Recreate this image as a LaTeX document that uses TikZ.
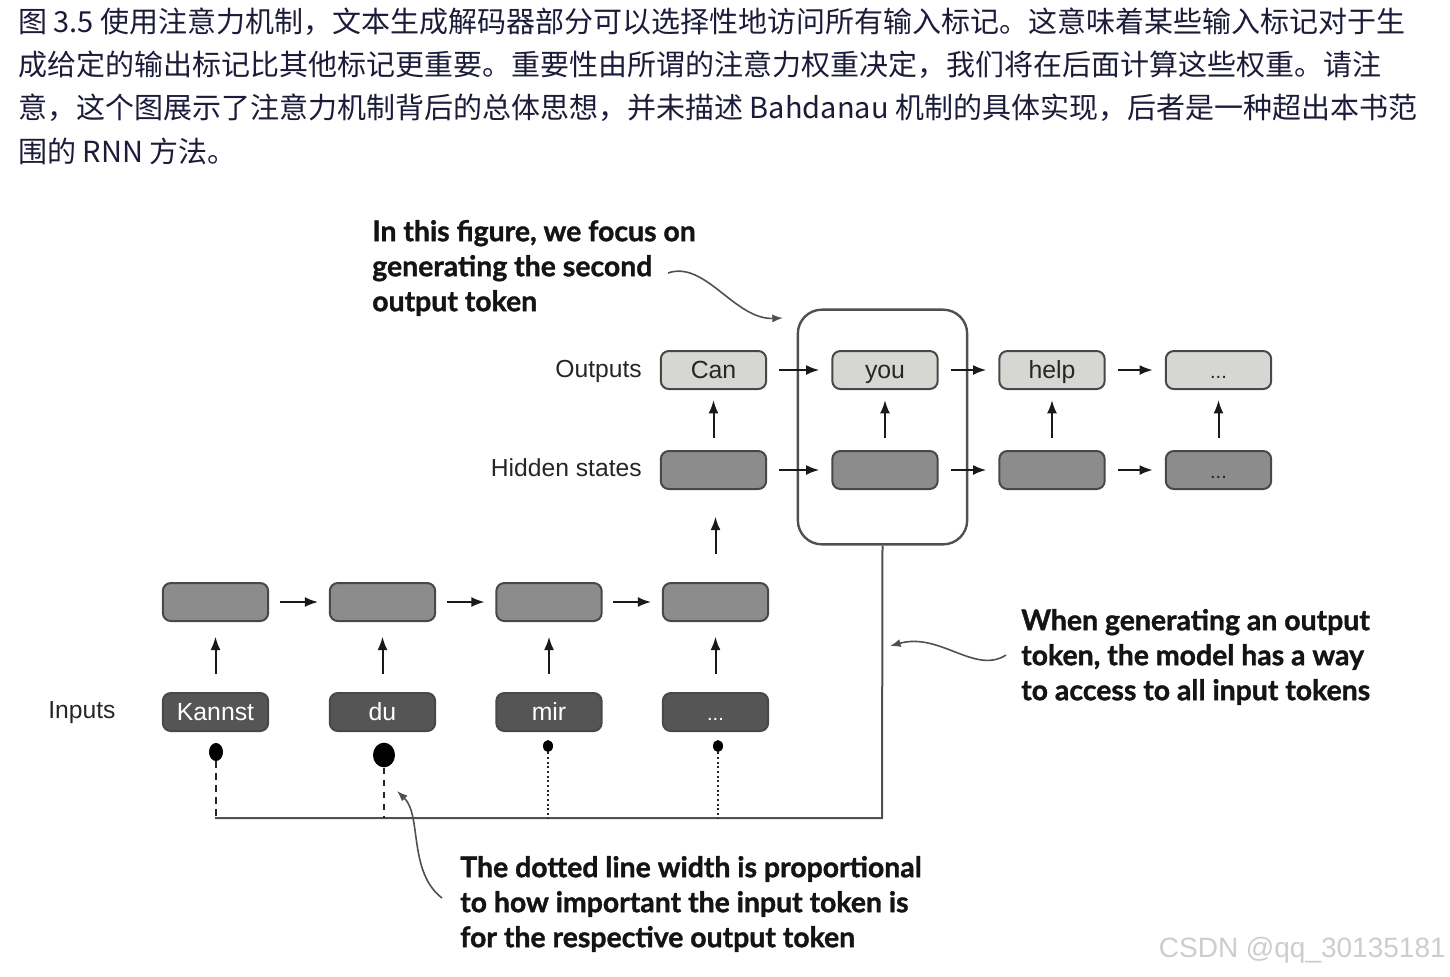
\documentclass[tikz,border=0pt]{standalone}
\usepackage{fontspec}
\setmainfont{Liberation Sans}
\newfontfamily\cjk{Noto Sans CJK SC}
\newfontfamily\annfont[BoldFeatures={FakeBold=1.2}]{Lato}
\usetikzlibrary{arrows.meta,shapes.geometric}
\definecolor{capcol}{RGB}{28,28,58}
\definecolor{outfill}{RGB}{214,214,210}
\definecolor{hidfill}{RGB}{140,140,140}
\definecolor{infill}{RGB}{85,85,85}
\definecolor{edgecol}{RGB}{72,72,72}
\definecolor{linecol}{RGB}{80,80,80}
\definecolor{wmcol}{RGB}{205,205,205}
\begin{document}
\begin{tikzpicture}[x=0.75pt,y=-0.75pt,
  box/.style={rounded corners=6pt, draw=edgecol, line width=1.5pt, minimum width=79pt, minimum height=28.5pt, inner sep=0pt, text height=16.6pt, text depth=3.5pt, font=\fontsize{18.6}{20}\selectfont},
  outbox/.style={box, fill=outfill, text=black!85},
  hidbox/.style={box, fill=hidfill, text=black!85},
  inbox/.style={box, fill=infill, text=white},
  conn/.style={line width=1.5pt, draw=black!90, -{Latex[length=10pt,width=7.5pt]}},
  annarrow/.style={line width=1.2pt, draw=linecol, -{Latex[length=8pt,width=6pt]}},
  rowlabel/.style={font=\fontsize{18.5}{20}\selectfont, text=black!85, inner sep=0pt},
  anntext/.style={font=\annfont\bfseries\fontsize{21.3}{26.25}\selectfont, align=left, inner sep=0pt, text=black!92},
  capline/.style={font=\cjk\fontsize{21.75}{26}\selectfont, text=capcol, anchor=west, inner sep=0pt},
  dotmark/.style={ellipse, fill=black, inner sep=0pt},
]
\useasboundingbox (0,0) rectangle (1450,976);

% caption
\node[capline] (c1) at (18,22) {图 3.5 使用注意力机制，文本生成解码器部分可以选择性地访问所有输入标记。这意味着某些输入标记对于生};
\node[capline] (c2) at (18,65) {成给定的输出标记比其他标记更重要。重要性由所谓的注意力权重决定，我们将在后面计算这些权重。请注};
\node[capline] (c3) at (18,108) {意，这个图展示了注意力机制背后的总体思想，并未描述 Bahdanau 机制的具体实现，后者是一种超出本书范};
\node[capline] (c4) at (18,151) {围的 RNN 方法。};

% row labels
\node[rowlabel, anchor=east] (lo) at (642,371) {Outputs};
\node[rowlabel, anchor=east] (lh) at (642,468) {Hidden states};
\node[rowlabel, anchor=west] (li) at (48,713) {Inputs};

% decoder outputs
\node[outbox] (o1) at (713.5,370) {Can};
\node[outbox] (o2) at (885,370) {you};
\node[outbox] (o3) at (1052,370) {help};
\node[outbox] (o4) at (1218.5,370) {\fontsize{15}{16}\selectfont ...};
% decoder hidden
\node[hidbox] (h1) at (713.5,470) {};
\node[hidbox] (h2) at (885,470) {};
\node[hidbox] (h3) at (1052,470) {};
\node[hidbox] (h4) at (1218.5,470) {\fontsize{15}{16}\selectfont ...};
% encoder hidden
\node[hidbox] (e1) at (215.5,602) {};
\node[hidbox] (e2) at (382.5,602) {};
\node[hidbox] (e3) at (549,602) {};
\node[hidbox] (e4) at (715.5,602) {};
% inputs
\node[inbox] (i1) at (215.5,712) {Kannst};
\node[inbox] (i2) at (382.5,712) {du};
\node[inbox] (i3) at (549,712) {mir};
\node[inbox] (i4) at (715.5,712) {\fontsize{15}{16}\selectfont ...};

% focus box
\node[draw=linecol, line width=1.8pt, rounded corners=18pt, minimum width=127pt, minimum height=176pt, inner sep=0pt] (focus) at (882.5,427) {};

% horizontal arrows
\foreach \a/\b in {o1/o2,o2/o3,o3/o4,h1/h2,h2/h3,h3/h4}
  \draw[conn, shorten <=9pt, shorten >=9pt] (\a.east) -- (\b.west);
\foreach \a/\b in {e1/e2,e2/e3,e3/e4}
  \draw[conn, shorten <=8pt, shorten >=8pt] (\a.east) -- (\b.west);
% vertical arrows
\foreach \a/\b in {h1/o1,h2/o2,h3/o3,h4/o4}
  \draw[conn, shorten <=9pt, shorten >=7.5pt] (\a.north) -- (\b.south);
\foreach \a/\b in {i1/e1,i2/e2,i3/e3,i4/e4}
  \draw[conn, shorten <=13.5pt, shorten >=11pt] (\a.north) -- (\b.south);
\draw[conn, shorten <=21pt, shorten >=20pt] (e4.north) -- (e4.north |- h1.south);

% attention lines
\coordinate (br) at (882,818);
\coordinate (bl) at (215,818);
\node[dotmark, minimum width=10.5pt, minimum height=13.5pt] (d1) at (216,752) {};
\node[dotmark, minimum width=16.5pt, minimum height=18.5pt] (d2) at (384,755) {};
\node[dotmark, minimum width=7.5pt, minimum height=9pt] (d3) at (548,746) {};
\node[dotmark, minimum width=7.5pt, minimum height=9pt] (d4) at (718,746) {};
\draw[linecol, line width=1.5pt] (focus.south) -- (br) -- (bl);
\draw[black!85, line width=1.4pt, dash pattern=on 5pt off 4pt] (d1.south) -- (d1.south |- bl);
\draw[black!85, line width=1.6pt, dash pattern=on 5pt off 4pt] (d2.south) -- (d2.south |- bl);
\draw[black!85, line width=1.3pt, dash pattern=on 1.5pt off 2pt] (d3.south) -- (d3.south |- bl);
\draw[black!85, line width=1.3pt, dash pattern=on 1.5pt off 2pt] (d4.south) -- (d4.south |- bl);

% annotations
\node[anntext, anchor=west] (a1) at (372,268) {In this figure, we focus on\\generating the second\\output token};
\node[anntext, anchor=west] (a2) at (1021,657) {When generating an output\\token, the model has a way\\to access to all input tokens};
\node[anntext, anchor=west] (a3) at (460,904) {The dotted line width is proportional\\to how important the input token is\\for the respective output token};

\coordinate (s1) at (668,273);
\coordinate (t1) at (783,318);
\draw[annarrow] (s1) .. controls (705,260) and (735,320) .. (t1);
\coordinate (s2) at (1006,655);
\coordinate (t2) at (890,646);
\draw[annarrow] (s2) .. controls (975,675) and (940,632) .. (t2);
\coordinate (s3) at (442,898);
\coordinate (t3) at (397,791);
\draw[annarrow] (s3) .. controls (408,872) and (422,815) .. (t3);

% watermark
\node[font=\fontsize{21}{24}\selectfont, text=wmcol, anchor=east, inner sep=0pt] (wm) at (1446,950) {CSDN @qq\_30135181};
\end{tikzpicture}
\end{document}
